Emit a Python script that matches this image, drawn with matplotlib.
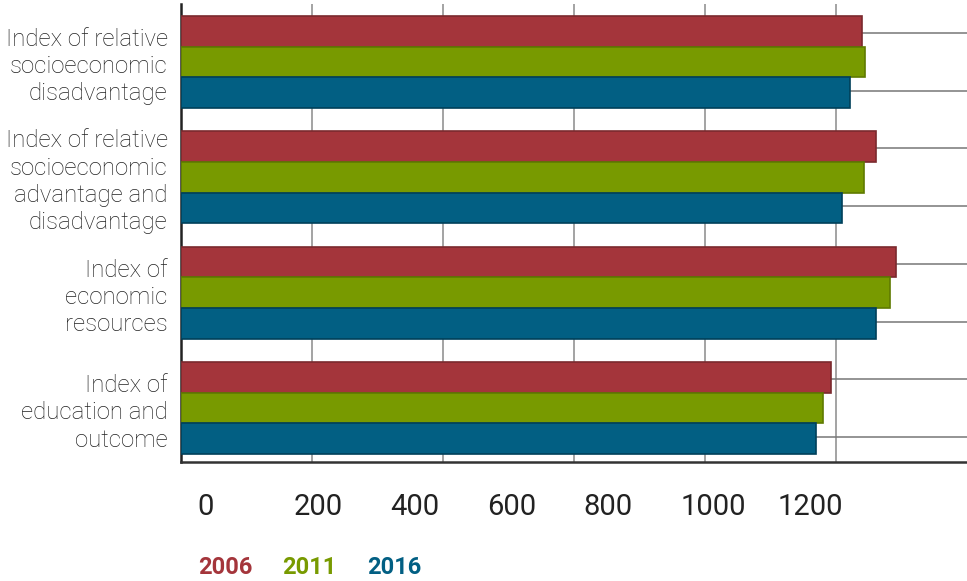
import matplotlib
matplotlib.use("Agg")
import matplotlib.pyplot as plt
import numpy as np

categories = [
    "Index of relative\nsocioeconomic\ndisadvantage",
    "Index of relative\nsocioeconomic\nadvantage and\ndisadvantage",
    "Index of\neconomic\nresources",
    "Index of\neducation and\noutcome",
]
years = ["2006", "2011", "2016"]
values_2006 = [1040, 1061, 1091, 993]
values_2011 = [1044, 1043, 1082, 980]
values_2016 = [1022, 1009, 1061, 970]
tick_values = [0, 200, 400, 600, 800, 1000, 1200]
tick_labels = ["0", "200", "400", "600", "800", "1000", "1200"]

colors = ["#A4353B", "#789A00", "#025F83"]
edges = ["#7a2a2e", "#5f7a00", "#00405a"]

W, H = 967, 581
fig = plt.figure(figsize=(W / 100, H / 100), dpi=100)
ax = fig.add_axes([181 / W, 1 - 462 / H, (967 - 181) / W, (462 - 4) / H])

y = np.arange(len(categories))
bh = 0.8 / 3
series = [values_2006, values_2011, values_2016]
for i, (vals, c, ec) in enumerate(zip(series, colors, edges)):
    ax.barh(y + (i - 1) * bh, vals, height=bh, color=c, edgecolor=ec,
            linewidth=1.2, zorder=3)

ax.set_xlim(0, 1200)
ax.set_ylim(3.4675, -0.502)
ax.set_xticks([200, 400, 600, 800, 1000])
ax.set_xticklabels([])
ax.tick_params(axis="x", length=0)
ax.xaxis.grid(True, color="#8a8a8a", linewidth=1.1, zorder=0)

ax.set_yticks(y)
ax.set_yticklabels(categories, fontfamily="Roboto", fontweight="light",
                   fontsize=17.3, color="#222222", linespacing=1.24)
ax.set_yticks(np.concatenate([y - 0.25, y + 0.25]), minor=True)
ax.tick_params(axis="y", which="both", length=0, pad=9.5)
ax.yaxis.grid(True, which="minor", color="#777777", linewidth=1.1, zorder=0)
ax.set_axisbelow(True)

for s in ["top", "right"]:
    ax.spines[s].set_visible(False)
ax.spines["left"].set_color("#222222")
ax.spines["left"].set_linewidth(1.8)
ax.spines["bottom"].set_color("#333333")
ax.spines["bottom"].set_linewidth(1.8)

# secondary label axis
ax2 = ax.twiny()
ax2.xaxis.set_ticks_position("bottom")
ax2.xaxis.set_label_position("bottom")
lo = (181 - 197) / 96.7 * 200
hi = (967 - 197) / 96.7 * 200
ax2.set_xlim(lo, hi)
ax2.set_xticks(tick_values)
ax2.set_xticklabels(tick_labels, fontfamily="Roboto",
                    fontsize=21, color="#222222", ha="left")
ax2.tick_params(axis="x", length=0, pad=22)
for s in ax2.spines.values():
    s.set_visible(False)

# legend as colored text
legend_x = [198, 282, 367]
for yr, c, lx in zip(years, colors, legend_x):
    fig.text(lx / W, 1 - 567 / H, yr, color=c, fontsize=17, fontweight="bold",
             fontfamily="Roboto", va="center", ha="left")

fig.savefig("out.png", dpi=100)
